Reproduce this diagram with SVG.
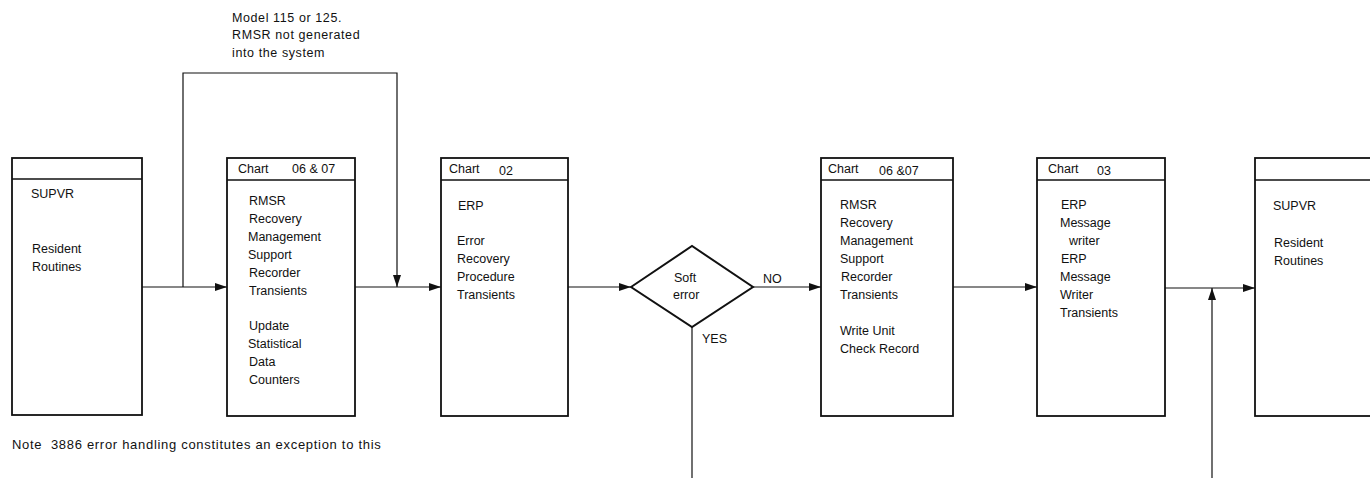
<svg xmlns="http://www.w3.org/2000/svg" width="1370" height="478" viewBox="0 0 1370 478">
  <style>
    text { font-family: "Liberation Sans", Arial, sans-serif; font-size: 12.5px; fill: #111; }
    .wide { letter-spacing: 0.6px; }
    .note { font-size: 13px; letter-spacing: 0.7px; white-space: pre; }
    .box { fill: #fff; stroke: #111; stroke-width: 1.8; }
    .hdr { stroke: #111; stroke-width: 1.6; }
    .line { fill: none; stroke: #111; stroke-width: 1.2; }
    .dia { fill: #fff; stroke: #111; stroke-width: 2; }
  </style>
  <defs>
    <marker id="arrow" viewBox="0 0 12 8" refX="12" refY="4" markerWidth="12" markerHeight="8" markerUnits="userSpaceOnUse" orient="auto">
      <path d="M0,0 L12,4 L0,8 Z" fill="#111"/>
    </marker>
  </defs>

  <rect width="1370" height="478" fill="#fff"/>

  <!-- connectors -->
  <g id="connectors">
    <line class="line" x1="142" y1="287" x2="227" y2="287" marker-end="url(#arrow)"/>
    <polyline class="line" points="183,287 183,73 397,73 397,287" marker-end="url(#arrow)"/>
    <line class="line" x1="355" y1="287" x2="441" y2="287" marker-end="url(#arrow)"/>
    <line class="line" x1="568" y1="287" x2="631" y2="287" marker-end="url(#arrow)"/>
    <line class="line" x1="753" y1="287" x2="821" y2="287" marker-end="url(#arrow)"/>
    <line class="line" x1="692" y1="327" x2="692" y2="478"/>
    <line class="line" x1="953" y1="287" x2="1037" y2="287" marker-end="url(#arrow)"/>
    <line class="line" x1="1165" y1="288" x2="1255" y2="288" marker-end="url(#arrow)"/>
    <line class="line" x1="1212" y1="478" x2="1212" y2="288" marker-end="url(#arrow)"/>
  </g>

  <!-- bypass annotation -->
  <g id="bypass-label">
    <text class="wide" x="232" y="22">Model 115 or 125.</text>
    <text class="wide" x="232" y="39">RMSR not generated</text>
    <text class="wide" x="232" y="57">into the system</text>
  </g>

  <!-- supervisor resident routines (entry) -->
  <g id="supvr-in">
    <rect class="box" x="12" y="158" width="130" height="257"/>
    <line class="hdr" x1="12" y1="179" x2="142" y2="179"/>
    <text x="31" y="198">SUPVR</text>
    <text x="32" y="253">Resident</text>
    <text x="32" y="271">Routines</text>
  </g>

  <!-- RMSR, statistical update -->
  <g id="rmsr-stats">
    <rect class="box" x="227" y="158" width="128" height="258"/>
    <line class="hdr" x1="227" y1="180" x2="355" y2="180"/>
    <text x="238" y="173">Chart</text>
    <text x="292" y="173">06 &amp; 07</text>
    <text x="249" y="205">RMSR</text>
    <text x="249" y="223">Recovery</text>
    <text x="248" y="241">Management</text>
    <text x="248" y="259">Support</text>
    <text x="249" y="277">Recorder</text>
    <text x="249" y="295">Transients</text>
    <text x="249" y="330">Update</text>
    <text x="248" y="348">Statistical</text>
    <text x="249" y="366">Data</text>
    <text x="249" y="384">Counters</text>
  </g>

  <!-- error recovery procedure -->
  <g id="erp">
    <rect class="box" x="441" y="158" width="127" height="258"/>
    <line class="hdr" x1="441" y1="180" x2="568" y2="180"/>
    <text x="449" y="173">Chart</text>
    <text x="499" y="175">02</text>
    <text x="458" y="210">ERP</text>
    <text x="457" y="245">Error</text>
    <text x="457" y="263">Recovery</text>
    <text x="457" y="281">Procedure</text>
    <text x="457" y="299">Transients</text>
  </g>

  <!-- soft error decision -->
  <g id="soft-error">
    <polygon class="dia" points="631,287 692,246 753,287 692,327"/>
    <text x="674" y="282">Soft</text>
    <text x="673" y="299">error</text>
    <text x="763" y="283">NO</text>
    <text x="702" y="343">YES</text>
  </g>

  <!-- RMSR, unit check record -->
  <g id="rmsr-ucr">
    <rect class="box" x="821" y="158" width="132" height="258"/>
    <line class="hdr" x1="821" y1="180" x2="953" y2="180"/>
    <text x="828" y="173">Chart</text>
    <text x="879" y="175">06 &amp;07</text>
    <text x="840" y="209">RMSR</text>
    <text x="840" y="227">Recovery</text>
    <text x="840" y="245">Management</text>
    <text x="840" y="263">Support</text>
    <text x="841" y="281">Recorder</text>
    <text x="840" y="299">Transients</text>
    <text x="840" y="335">Write Unit</text>
    <text x="840" y="353">Check Record</text>
  </g>

  <!-- message writer -->
  <g id="msg-writer">
    <rect class="box" x="1037" y="158" width="128" height="258"/>
    <line class="hdr" x1="1037" y1="180" x2="1165" y2="180"/>
    <text x="1048" y="173">Chart</text>
    <text x="1097" y="175">03</text>
    <text x="1061" y="209">ERP</text>
    <text x="1060" y="227">Message</text>
    <text x="1069" y="245">writer</text>
    <text x="1061" y="263">ERP</text>
    <text x="1060" y="281">Message</text>
    <text x="1060" y="299">Writer</text>
    <text x="1060" y="317">Transients</text>
  </g>

  <!-- supervisor resident routines (return) -->
  <g id="supvr-out">
    <rect class="box" x="1255" y="158" width="130" height="258"/>
    <line class="hdr" x1="1255" y1="180" x2="1385" y2="180"/>
    <text x="1273" y="210">SUPVR</text>
    <text x="1274" y="247">Resident</text>
    <text x="1274" y="265">Routines</text>
  </g>

  <text id="note" class="note" x="12" y="449">Note  3886 error handling constitutes an exception to this</text>
</svg>
